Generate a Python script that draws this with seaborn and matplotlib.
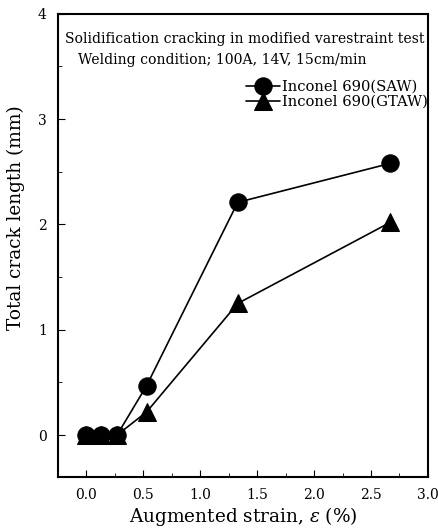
import pandas as pd
import matplotlib.pyplot as plt
import seaborn as sns
from matplotlib.ticker import MultipleLocator

strain = [0.0, 0.13, 0.27, 0.53, 1.33, 2.67]
saw = [0.0, 0.0, 0.0, 0.47, 2.21, 2.58]
gtaw = [0.0, 0.0, 0.0, 0.22, 1.25, 2.02]
labels = ['Inconel 690(SAW)', 'Inconel 690(GTAW)']

df = pd.DataFrame({
    'strain': strain * 2,
    'crack': saw + gtaw,
    'alloy': [labels[0]] * len(strain) + [labels[1]] * len(strain),
})

sns.set_style('ticks', {'text.color': 'black', 'axes.labelcolor': 'black',
                        'xtick.color': 'black', 'ytick.color': 'black',
                        'axes.edgecolor': 'black'})
plt.rcParams['font.family'] = ['DejaVu Serif']
plt.rcParams['mathtext.fontset'] = 'dejavuserif'

fig = plt.figure(figsize=(4.38, 5.32), dpi=100)
ax = fig.add_axes([0.132, 0.103, 0.845, 0.871])

sns.lineplot(data=df, x='strain', y='crack', hue='alloy', style='alloy',
             markers={labels[0]: 'o', labels[1]: '^'}, dashes=False,
             palette=['black', 'black'], markersize=12.5, linewidth=1.2,
             markeredgecolor='black', ax=ax, sort=False)
# circles sit on top of the triangles at zero, as in the original
ax.lines[0].set_zorder(3)

ax.set_xlim(-0.25, 3.0)
ax.set_ylim(-0.4, 4.0)
ax.xaxis.set_major_locator(MultipleLocator(0.5))
ax.xaxis.set_minor_locator(MultipleLocator(0.25))
ax.yaxis.set_major_locator(MultipleLocator(1))
ax.yaxis.set_minor_locator(MultipleLocator(0.5))
ax.xaxis.set_major_formatter(plt.FormatStrFormatter('%.1f'))
ax.tick_params(which='both', direction='in', labelsize=10)
ax.tick_params(which='major', length=5, pad=8)
ax.tick_params(which='minor', length=3)
for s in ax.spines.values():
    s.set_linewidth(1.5)

ax.set_xlabel(r'Augmented strain, $\it{\varepsilon}$ (%)', fontsize=13.3, labelpad=2)
ax.set_ylabel('Total crack length (mm)', fontsize=13.3)
ax.yaxis.set_label_coords(-0.09, 0.56)

ax.text(0.02, 0.96, 'Solidification cracking in modified varestraint test',
        transform=ax.transAxes, fontsize=10.1, va='top')
ax.text(0.055, 0.915, 'Welding condition; 100A, 14V, 15cm/min',
        transform=ax.transAxes, fontsize=10.1, va='top')

leg = ax.legend(loc='upper right', bbox_to_anchor=(1.015, 0.87), frameon=False,
                fontsize=10.6, handlelength=2.3, handletextpad=0.1,
                labelspacing=0.05, borderaxespad=0)
leg.set_title(None)

fig.savefig('out.png', dpi=100)
